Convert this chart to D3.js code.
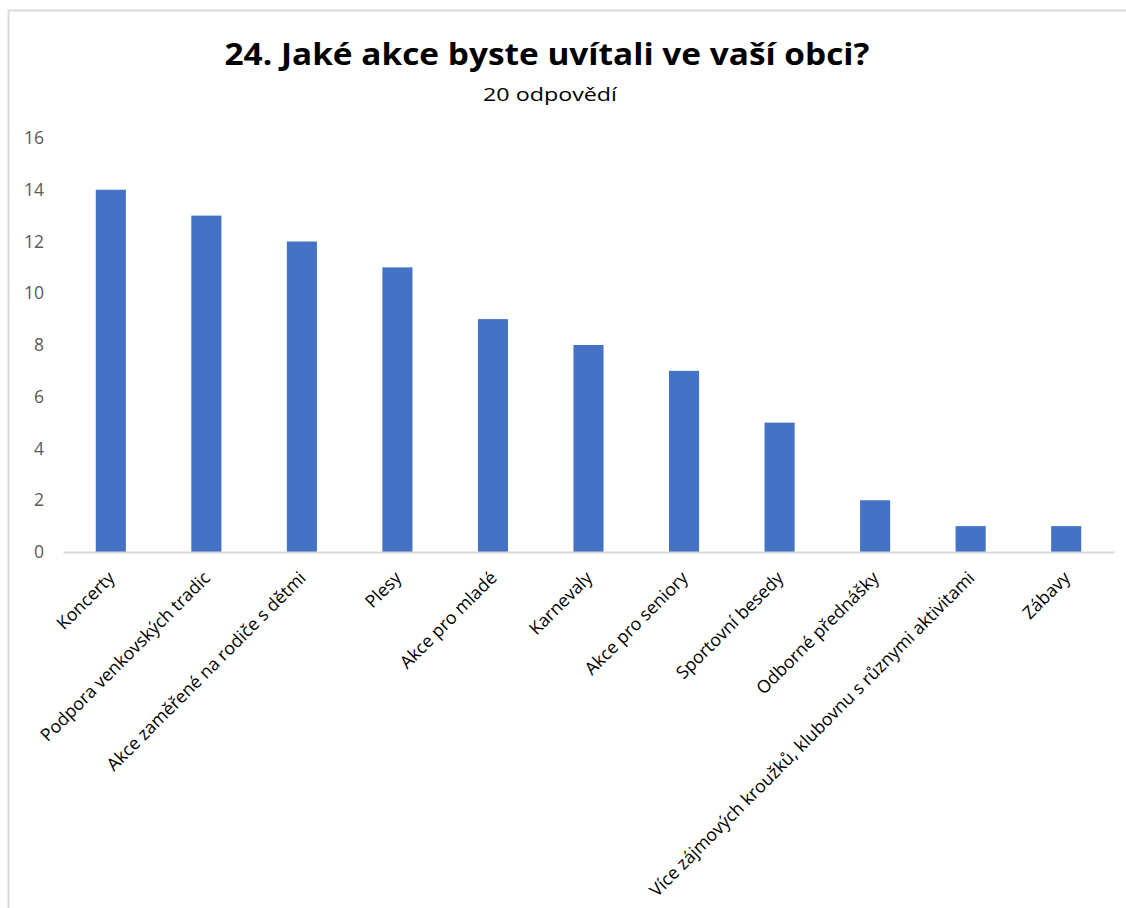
<!DOCTYPE html>
<html>
<head>
<meta charset="utf-8">
<script src="https://cdn.jsdelivr.net/npm/d3@7"></script>
<style>
  body { margin: 0; background: #fff; }
  svg { display: block; font-family: "Open Sans", "Noto Sans", sans-serif; }
</style>
</head>
<body>
<svg id="chart"></svg>
<script>
// data
const categories = [
  'Koncerty',
  'Podpora venkovských tradic',
  'Akce zaměřené na rodiče s dětmi',
  'Plesy',
  'Akce pro mladé',
  'Karnevaly',
  'Akce pro seniory',
  'Sportovní besedy',
  'Odborné přednášky',
  'Více zájmových kroužků, klubovnu s různymi aktivitami',
  'Zábavy'
];
const counts = [14, 13, 12, 11, 9, 8, 7, 5, 2, 1, 1];
const yTicks = [0, 2, 4, 6, 8, 10, 12, 14, 16];

const TITLE = '24. Jaké akce byste uvítali ve vaší obci?';
const SUBTITLE = '20 odpovědí';

const W = 1126, H = 908;
const margin = {left: 63, right: 12, top: 138, bottom: 356};

const svg = d3.select('#chart').attr('width', W).attr('height', H);

// chart frame (only top and left edges are visible in the crop)
svg.append('path')
  .attr('d', `M8.5,${H} V10.5 H${W}`)
  .attr('fill', 'none')
  .attr('stroke', '#d9d9d9')
  .attr('stroke-width', 2);

svg.append('text')
  .attr('x', 547).attr('y', 65)
  .attr('text-anchor', 'middle')
  .attr('font-size', 30)
  .attr('font-weight', 'bold')
  .attr('textLength', 645)
  .attr('lengthAdjust', 'spacingAndGlyphs')
  .attr('fill', '#000')
  .text(TITLE);

svg.append('text')
  .attr('x', 550).attr('y', 101)
  .attr('text-anchor', 'middle')
  .attr('font-size', 19)
  .attr('textLength', 134)
  .attr('lengthAdjust', 'spacingAndGlyphs')
  .attr('fill', '#000')
  .text(SUBTITLE);

const x = d3.scaleBand()
  .domain(categories)
  .range([margin.left, W - margin.right])
  .paddingInner(0.685)
  .paddingOuter(0.343);

const y = d3.scaleLinear()
  .domain([0, 16])
  .range([H - margin.bottom, margin.top]);

// y axis: labels only
const yAxis = svg.append('g')
  .attr('transform', `translate(${margin.left},0)`)
  .call(d3.axisLeft(y).tickValues(yTicks).tickSize(0).tickPadding(19));
yAxis.select('.domain').remove();
yAxis.selectAll('text')
  .attr('font-size', 17.5)
  .attr('font-family', '"Open Sans", sans-serif')
  .attr('fill', '#595959');

// bars
svg.append('g')
  .selectAll('rect')
  .data(counts)
  .join('rect')
  .attr('x', (d, i) => x(categories[i]))
  .attr('y', d => y(d))
  .attr('width', x.bandwidth())
  .attr('height', d => y(0) - y(d))
  .attr('fill', '#4472c4');

// x axis baseline + rotated labels
const xAxis = svg.append('g')
  .attr('transform', `translate(0,${y(0)})`)
  .call(d3.axisBottom(x).tickSize(0).tickSizeOuter(0).tickPadding(0));
xAxis.select('.domain')
  .attr('stroke', '#d9d9d9')
  .attr('stroke-width', 2);
xAxis.selectAll('.tick text')
  .attr('font-size', 17.7)
  .attr('font-family', '"Open Sans", sans-serif')
  .attr('fill', '#000')
  .attr('text-anchor', 'end')
  .attr('dy', null)
  .attr('transform', 'translate(5,27) rotate(-45)');
</script>
</body>
</html>
